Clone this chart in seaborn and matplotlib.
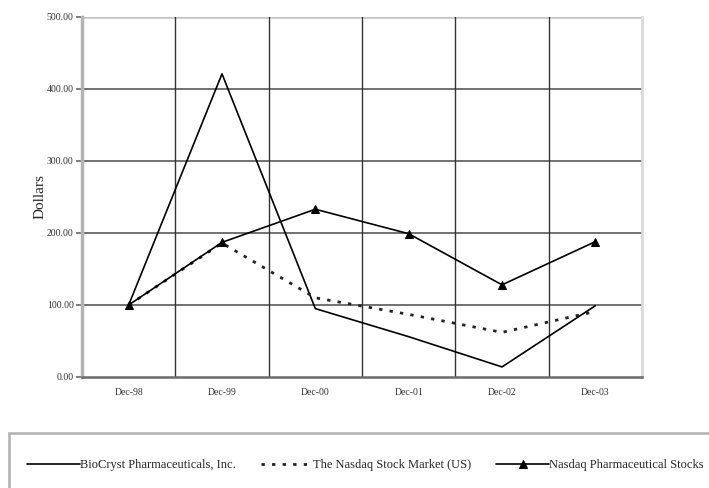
import pandas as pd, numpy as np
import seaborn as sns
import matplotlib.pyplot as plt
from matplotlib.patches import Rectangle
from matplotlib.ticker import FixedLocator, FormatStrFormatter

# values
periods = ["Dec-98", "Dec-99", "Dec-00", "Dec-01", "Dec-02", "Dec-03"]
biocryst = [100, 421, 95, 56, 14, 99]
nasdaq_market = [100, 186, 110, 87, 62, 91]
nasdaq_pharma = [100, 187, 233, 199, 128, 188]

df = pd.DataFrame({
    "period": periods,
    "pos": np.arange(len(periods)),
    "BioCryst Pharmaceuticals, Inc.": biocryst,
    "The Nasdaq Stock Market (US)": nasdaq_market,
    "Nasdaq Pharmaceutical Stocks": nasdaq_pharma,
})

sns.set_style("white")
plt.rcParams["font.family"] = ["Liberation Serif", "DejaVu Serif"]

fig = plt.figure(figsize=(7.09, 4.88), dpi=100)
ax = fig.add_axes([82 / 709, 111 / 488, 560 / 709, 360 / 488])

sns.lineplot(data=df, x="pos", y="BioCryst Pharmaceuticals, Inc.", ax=ax,
             color="black", lw=1.2, label="BioCryst Pharmaceuticals, Inc.")
sns.lineplot(data=df, x="pos", y="The Nasdaq Stock Market (US)", ax=ax,
             color="#222222", lw=2.0, dashes=False, label="The Nasdaq Stock Market (US)")
ax.lines[-1].set_linestyle((0, (1.2, 2.6)))
sns.lineplot(data=df, x="pos", y="Nasdaq Pharmaceutical Stocks", ax=ax,
             color="black", lw=1.2, marker="^", markersize=6,
             markeredgecolor="black", label="Nasdaq Pharmaceutical Stocks")

ax.set_xlim(-0.5, len(periods) - 0.5)
ax.set_ylim(0, 500)
ax.set_xticks(df["pos"])
ax.set_xticklabels(periods)
ax.xaxis.set_minor_locator(FixedLocator(np.arange(-0.5, len(periods), 1.0)))
ax.set_yticks(np.arange(0, 501, 100))
ax.yaxis.set_major_formatter(FormatStrFormatter("%.2f"))
ax.tick_params(axis="x", which="major", length=0, pad=8, labelsize=7, colors="#333333")
ax.tick_params(axis="x", which="minor", length=4, width=1.2, color="#555555", direction="out")
ax.tick_params(axis="y", length=4, width=1.2, color="#666666", labelsize=7,
               colors="#333333", left=True, pad=2)
ax.grid(False)
for v in range(100, 500, 100):
    ax.axhline(v, color="#4a4a4a", lw=1.1, zorder=0)
ax.axhline(500, color="#c4c4c4", lw=1.8, zorder=0)
for b in np.arange(0.5, len(periods) - 1, 1.0):
    ax.axvline(b, color="#333333", lw=1.0, zorder=0)

ax.spines["left"].set_color("#b4b4b4")
ax.spines["left"].set_linewidth(2.5)
ax.spines["bottom"].set_color("#6a6a6a")
ax.spines["bottom"].set_linewidth(1.8)
ax.spines["right"].set_color("#dadada")
ax.spines["right"].set_linewidth(2.0)
ax.spines["top"].set_visible(False)

ax.set_xlabel("")
ax.set_ylabel("Dollars", fontsize=11, labelpad=0)

# legend in a grey box at the foot of the figure
handles, labels = ax.get_legend_handles_labels()
ax.get_legend().remove()
fig.patches.append(Rectangle((9 / 709, -0.2), 1.0, (488 - 433) / 488 + 0.2,
                             transform=fig.transFigure, fill=False,
                             edgecolor="#b0b0b0", lw=1.8))
fig.legend(handles, labels, ncol=3, loc="center left",
           bbox_to_anchor=(16 / 709, 23 / 488), frameon=False, fontsize=9,
           handlelength=4.2, handletextpad=0.0, columnspacing=2.0)

plt.savefig("out.png", dpi=100)
